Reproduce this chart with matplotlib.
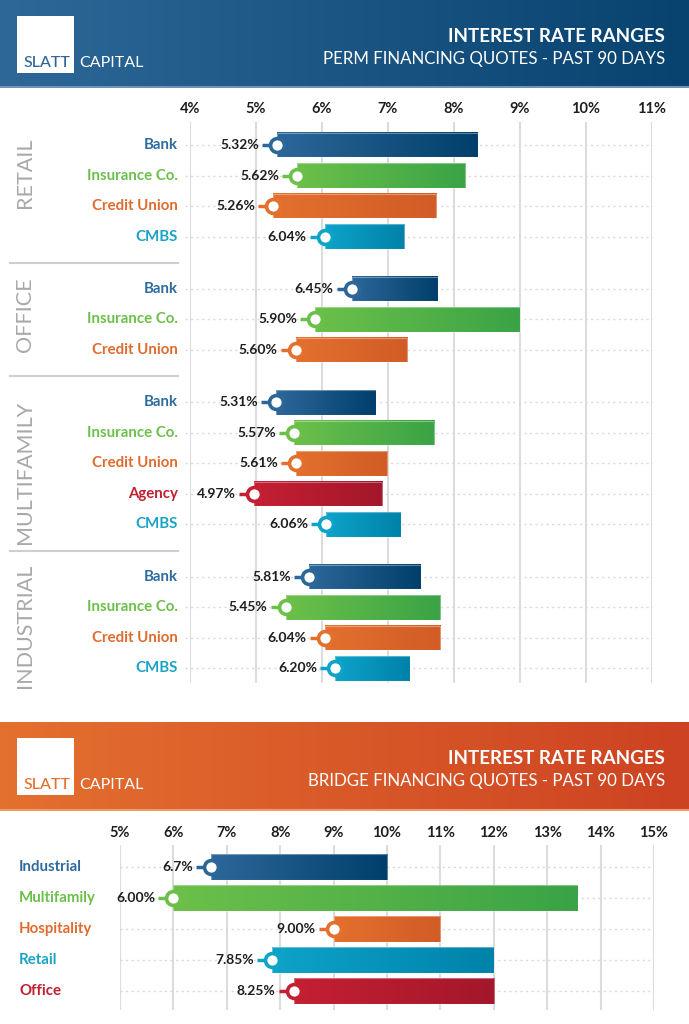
import numpy as np
import matplotlib
matplotlib.use("Agg")
import matplotlib.pyplot as plt
from matplotlib.colors import LinearSegmentedColormap
from matplotlib.patches import Rectangle
from matplotlib.transforms import blended_transform_factory

plt.rcParams['font.family'] = ['Lato', 'DejaVu Sans']

W, H = 689, 1024

# ---- data ----
perm_groups = ["RETAIL", "OFFICE", "MULTIFAMILY", "INDUSTRIAL"]
perm_lenders = [
    ["Bank", "Insurance Co.", "Credit Union", "CMBS"],
    ["Bank", "Insurance Co.", "Credit Union"],
    ["Bank", "Insurance Co.", "Credit Union", "Agency", "CMBS"],
    ["Bank", "Insurance Co.", "Credit Union", "CMBS"],
]
perm_low = [
    [5.32, 5.62, 5.26, 6.04],
    [6.45, 5.90, 5.60],
    [5.31, 5.57, 5.61, 4.97, 6.06],
    [5.81, 5.45, 6.04, 6.20],
]
perm_high = [
    [8.36, 8.17, 7.73, 7.24],
    [7.75, 9.00, 7.29],
    [6.82, 7.70, 6.99, 6.91, 7.19],
    [7.50, 7.79, 7.79, 7.33],
]
perm_ticks = [4, 5, 6, 7, 8, 9, 10, 11]

bridge_types = ["Industrial", "Multifamily", "Hospitality", "Retail", "Office"]
bridge_low = [6.7, 6.00, 9.00, 7.85, 8.25]
bridge_high = [10.0, 13.57, 11.0, 12.0, 12.0]
bridge_labels = ["6.7%", "6.00%", "9.00%", "7.85%", "8.25%"]
bridge_ticks = [5, 6, 7, 8, 9, 10, 11, 12, 13, 14, 15]

# label colour, gradient start, gradient end
palette = {
    "blue":   ("#2f6a9e", "#2d679a", "#003f6b"),
    "green":  ("#6cbf4b", "#6cc04a", "#3aa346"),
    "orange": ("#e06b2e", "#e4702e", "#d15c26"),
    "cyan":   ("#1ba3c6", "#0ea3c9", "#0082aa"),
    "red":    ("#c1202f", "#c51f33", "#a3172a"),
}
lender_color = {"Bank": "blue", "Insurance Co.": "green", "Credit Union": "orange",
                "CMBS": "cyan", "Agency": "red"}
bridge_color = ["blue", "green", "orange", "cyan", "red"]

GRID = "#dcdcdc"
DOT = "#d9d9d9"

fig = plt.figure(figsize=(W / 100, H / 100), dpi=100)


def px_axes(x0, y0, x1, y1):
    return fig.add_axes([x0 / W, 1 - y1 / H, (x1 - x0) / W, (y1 - y0) / H])


def header(y0, y1, c_left, c_right, edge, logo_text_color, subtitle):
    hax = px_axes(0, y0, W, y1)
    cmap = LinearSegmentedColormap.from_list("h", [c_left, c_right])
    hax.imshow(np.linspace(0, 1, 256).reshape(1, -1), cmap=cmap, aspect="auto",
               extent=[0, W, y1 - y0, 0])
    hax.set_xlim(0, W)
    hax.set_ylim(y1 - y0, 0)
    hax.axis("off")
    hax.axhline(y1 - y0 - 0.8, color=edge, lw=1.5)
    top = 16
    hax.add_patch(Rectangle((17, top), 57, 57, facecolor="white", edgecolor="none"))
    hax.text(46.5, top + 47, "SLATT", color=logo_text_color, fontsize=11.5, ha="center",
             va="center", fontweight="medium")
    hax.text(79, top + 47, "CAPITAL", color="white", fontsize=11.5, ha="left", va="center")
    hax.text(665, 36, "INTEREST RATE RANGES", color="white", fontsize=13.5,
             fontweight="bold", ha="right", va="center")
    hax.text(665, 59, subtitle, color="white", fontsize=12.2, ha="right", va="center")
    return hax


def range_bar(ax, lo, hi, y, cname, label, h=0.8, ppu=66.0):
    lab, c0, c1 = palette[cname]
    cmap = LinearSegmentedColormap.from_list(cname, [c0, c1])
    ax.imshow(np.linspace(0, 1, 256).reshape(1, -1), cmap=cmap, aspect="auto",
              extent=[lo, hi, y + h / 2, y - h / 2], zorder=3)
    ax.add_patch(Rectangle((lo, y - h / 2), hi - lo, h, facecolor="none",
                           edgecolor="white", alpha=0.35, lw=0.8, zorder=4))
    ax.plot([lo - 15 / ppu, lo], [y, y], color=c0, lw=2.5, zorder=5,
            solid_capstyle="butt")
    ax.plot(lo, y, "o", ms=10, mfc="white", mec=c0, mew=2.6, zorder=6)
    ax.text(lo - 18 / ppu, y, label, ha="right", va="center", fontsize=10,
            color="#1e1e1e", fontweight="bold", zorder=6)


# ================= PERM =================
header(0, 88, "#2e6898", "#08426f", "#6d93b8", "#2d679a",
       "PERM FINANCING QUOTES - PAST 90 DAYS")

ax = px_axes(190, 122, 652, 683)
ax.set_xlim(4, 11)
row = 30.5
ax.set_ylim((683 - 145) / row, (122 - 145) / row)
ppu = 462 / 7.0

gap = 1.72
ypos = []
y = 0.0
for gi, lenders in enumerate(perm_lenders):
    ys = []
    for li in range(len(lenders)):
        ys.append(y)
        y += 1
    y += gap - 1
    ypos.append(ys)

# vertical nudge of the rotated group names (row units)
name_shift = [-0.6, -0.15, 0.3, 0.1]

for t in perm_ticks:
    ax.axvline(t, color=GRID, lw=1.5, zorder=1)

trans = blended_transform_factory(ax.transAxes, ax.transData)
for gi, lenders in enumerate(perm_lenders):
    for li, name in enumerate(lenders):
        yy = ypos[gi][li]
        cname = lender_color[name]
        ax.plot([3.92, 11], [yy, yy], color=DOT, lw=1, ls=(0, (1.5, 2.5)),
                zorder=2, clip_on=False)
        range_bar(ax, perm_low[gi][li], perm_high[gi][li], yy, cname,
                  f"{perm_low[gi][li]:.2f}%", ppu=ppu)
        ax.text(-12 / 462, yy, name, transform=trans, ha="right", va="center",
                fontsize=10.8, fontweight="bold", color=palette[cname][0])
    yc = (ypos[gi][0] + ypos[gi][-1]) / 2 + name_shift[gi]
    ax.text(-165 / 462, yc, perm_groups[gi], transform=trans, rotation=90,
            ha="center", va="center", fontsize=15.5, color="#a9a9a9")
    if gi < len(perm_lenders) - 1:
        ys = (ypos[gi][-1] + ypos[gi + 1][0]) / 2
        ax.plot([-180 / 462, -12 / 462], [ys, ys], transform=trans, color="#cfcfcf",
                lw=1.5, clip_on=False)

ax.set_xticks(perm_ticks)
ax.set_xticklabels([f"{t}%" for t in perm_ticks])
ax.xaxis.tick_top()
ax.tick_params(axis="x", length=0, pad=4, labelsize=10.5, labelcolor="#1e1e1e")
for lbl in ax.get_xticklabels():
    lbl.set_fontweight("bold")
ax.set_yticks([])
for s in ax.spines.values():
    s.set_visible(False)
ax.set_xlim(4, 11)
ax.set_ylim((683 - 145) / row, (122 - 145) / row)

# ================= BRIDGE =================
header(722, 811, "#e4702f", "#cd4222", "#ef9a6c", "#e4702e",
       "BRIDGE FINANCING QUOTES - PAST 90 DAYS")

bx = px_axes(120, 845, 654, 1010)
bx.set_xlim(5, 15)
brow = 31
b_ylim = ((1010 - 867) / brow, (845 - 867) / brow)
bppu = 534 / 10.0
for t in bridge_ticks:
    bx.axvline(t, color=GRID, lw=1.5, zorder=1)
btrans = blended_transform_factory(bx.transAxes, bx.transData)
for i, name in enumerate(bridge_types):
    cname = bridge_color[i]
    bx.plot([5, 15], [i, i], color=DOT, lw=1, ls=(0, (1.5, 2.5)), zorder=2)
    range_bar(bx, bridge_low[i], bridge_high[i], i, cname, bridge_labels[i],
              h=0.83, ppu=bppu)
    bx.text(-101 / 534, i, name, transform=btrans, ha="left", va="center",
            fontsize=10.8, fontweight="bold", color=palette[cname][0])

bx.set_xticks(bridge_ticks)
bx.set_xticklabels([f"{t}%" for t in bridge_ticks])
bx.xaxis.tick_top()
bx.tick_params(axis="x", length=0, pad=3.5, labelsize=10.5, labelcolor="#1e1e1e")
for lbl in bx.get_xticklabels():
    lbl.set_fontweight("bold")
bx.set_yticks([])
for s in bx.spines.values():
    s.set_visible(False)
bx.set_xlim(5, 15)
bx.set_ylim(*b_ylim)

fig.savefig("out.png", dpi=100)
